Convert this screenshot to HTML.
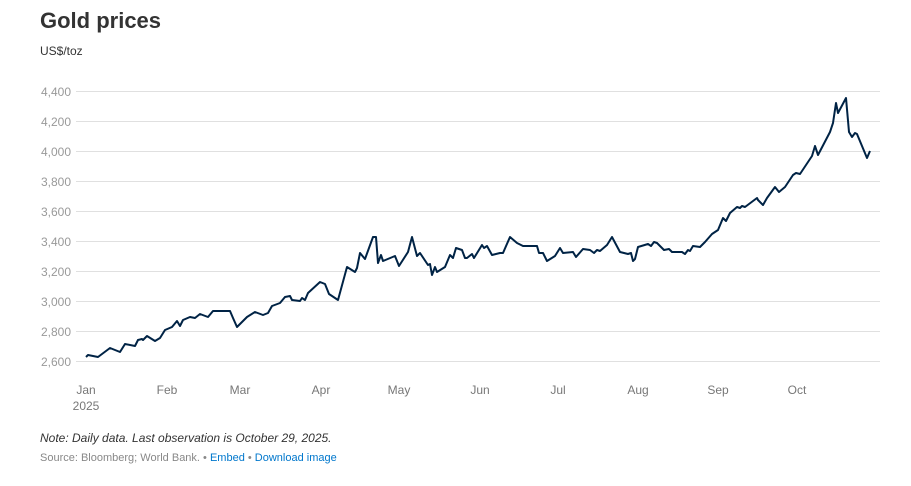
<!DOCTYPE html>
<html><head><meta charset="utf-8"><style>
body{margin:0;width:911px;height:481px;background:#fff;overflow:hidden;font-family:"Liberation Sans",Arial,sans-serif}
</style></head><body>
<svg width="911" height="481" xmlns="http://www.w3.org/2000/svg" font-family="Liberation Sans, Arial, sans-serif">
<text x="40" y="28" font-size="22" font-weight="bold" fill="#333">Gold prices</text>
<text x="40" y="55" font-size="12" fill="#333">US$/toz</text>
<g stroke="#e0e0e0" stroke-width="1">
<line x1="76" x2="880" y1="91.5" y2="91.5"/><line x1="76" x2="880" y1="121.5" y2="121.5"/>
<line x1="76" x2="880" y1="151.5" y2="151.5"/><line x1="76" x2="880" y1="181.5" y2="181.5"/>
<line x1="76" x2="880" y1="211.5" y2="211.5"/><line x1="76" x2="880" y1="241.5" y2="241.5"/>
<line x1="76" x2="880" y1="271.5" y2="271.5"/><line x1="76" x2="880" y1="301.5" y2="301.5"/>
<line x1="76" x2="880" y1="331.5" y2="331.5"/><line x1="76" x2="880" y1="361.5" y2="361.5"/>
</g>
<g font-size="12" fill="#999" text-anchor="end">
<text x="71" y="96">4,400</text><text x="71" y="126">4,200</text><text x="71" y="156">4,000</text>
<text x="71" y="186">3,800</text><text x="71" y="216">3,600</text><text x="71" y="246">3,400</text>
<text x="71" y="276">3,200</text><text x="71" y="306">3,000</text><text x="71" y="336">2,800</text>
<text x="71" y="366">2,600</text>
</g>
<g font-size="12" fill="#777" text-anchor="middle">
<text x="86" y="394">Jan</text><text x="86" y="410">2025</text>
<text x="167" y="394">Feb</text><text x="240" y="394">Mar</text><text x="321" y="394">Apr</text>
<text x="399" y="394">May</text><text x="480" y="394">Jun</text><text x="558" y="394">Jul</text>
<text x="638" y="394">Aug</text><text x="718" y="394">Sep</text><text x="797" y="394">Oct</text>
</g>
<polyline fill="none" stroke="#002345" stroke-width="2" stroke-linejoin="round" points="86,357 88,355 98,357 110,348 120,352 125,344 135,346 138,340 142,339 143,340 147,336 155,341 160,338 165,330 172,327 177,321 180,326 183,320 190,317 195,318 200,314 208,317 213,311 230,311 233,318 237,327 247,317 255,312 263,315 268,313 272,306 280,303 285,297 290,296 292,300 300,301 302,298 305,300 308,293 320,282 325,284 329,294 338,300 347,267 355,272 357,268 360,253 365,259 373,237 376,237 378,263 381,255 383,261 395,256 399,266 408,252 412,237 417,256 420,253 428,265 430,264 432,275 435,267 437,272 445,267 450,255 453,258 456,248 462,250 465,258 467,258 472,254 474,258 482,245 484,248 487,246 492,255 500,253 503,253 510,237 517,243 523,246 537,246 539,253 543,253 547,261 555,256 560,248 563,253 573,252 576,257 583,249 590,250 594,253 597,250 600,251 607,245 612,237 620,252 628,254 631,253 633,261 635,259 638,247 648,244 651,246 654,242 657,243 664,250 669,249 672,252 682,252 685,254 688,250 690,251 693,246 700,247 705,242 712,234 718,230 723,218 726,221 730,213 737,207 740,208 742,206 745,207 757,198 758,200 763,205 767,198 775,187 779,192 785,187 793,175 796,173 800,174 812,156 815,146 818,155 830,132 833,123 836,103 838,113 846,98 849,132 852,137 855,133 857,134 867,158 870,151"/>
<text x="40" y="442" font-size="12" font-style="italic" fill="#333">Note: Daily data. Last observation is October 29, 2025.</text>
<text x="40" y="461" font-size="11" fill="#888">Source: Bloomberg; World Bank. • <tspan fill="#0077cc">Embed</tspan>  • <tspan fill="#0077cc">Download image</tspan></text>
</svg>
</body></html>
